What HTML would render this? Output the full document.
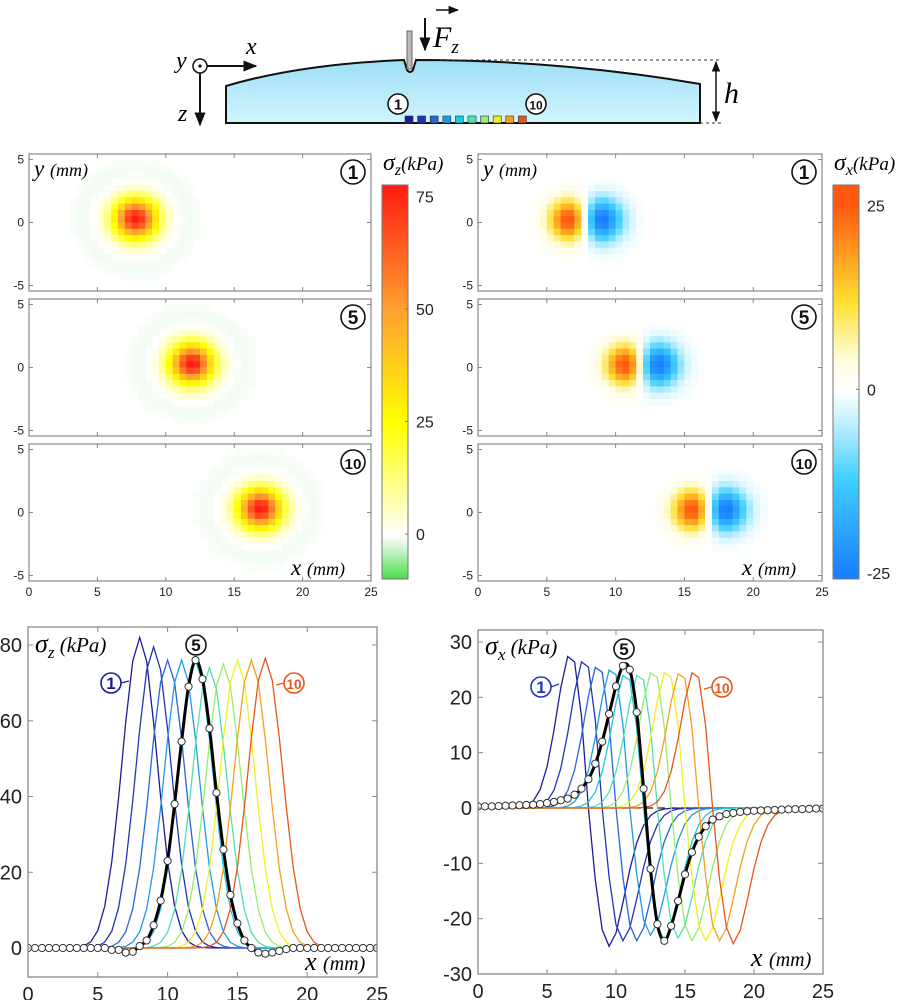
<!DOCTYPE html>
<html><head><meta charset="utf-8"><style>
html,body{margin:0;padding:0;background:#fff;}
svg{display:block;font-family:"Liberation Sans",sans-serif;}
.it{font-family:"Liberation Serif",serif;font-style:italic;}
</style></head><body>
<svg id="fig" width="908" height="1000" viewBox="0 0 908 1000" xmlns="http://www.w3.org/2000/svg">
<defs>
<linearGradient id="gel" x1="0" y1="0" x2="0" y2="1"><stop offset="0" stop-color="#9ddff6"/><stop offset="1" stop-color="#d2f5fd"/></linearGradient>
<marker id="ah" viewBox="0 0 10 10" refX="9" refY="5" markerWidth="7" markerHeight="7" orient="auto-start-reverse"><path d="M0,1 L10,5 L0,9 z" fill="#111"/></marker>
</defs>
<g>
<path d="M226,86 Q300,64 404,60 L407,70 Q410,74 413,70 L416,60 Q560,60 700,84 L700,123 L226,123 Z" fill="url(#gel)" stroke="#111" stroke-width="2"/>
<rect x="407" y="31" width="5" height="38" fill="#bbb" stroke="#666" stroke-width="1"/>
<line x1="425" y1="18" x2="425" y2="50" stroke="#111" stroke-width="2" marker-end="url(#ah)"/>
<text class="it" x="433" y="47" font-size="30">F<tspan font-size="19" dy="6">z</tspan></text>
<line x1="436" y1="10" x2="458" y2="10" stroke="#111" stroke-width="1.5" marker-end="url(#ah)"/>
<line x1="440" y1="60" x2="722" y2="60" stroke="#333" stroke-dasharray="3,3"/>
<line x1="700" y1="123" x2="722" y2="123" stroke="#333" stroke-dasharray="3,3"/>
<line x1="716" y1="62" x2="716" y2="121" stroke="#111" stroke-width="1.5" marker-start="url(#ah)" marker-end="url(#ah)"/>
<text class="it" x="724" y="103" font-size="30">h</text>
<circle cx="200" cy="66" r="7" fill="#fff" stroke="#111" stroke-width="1.5"/>
<circle cx="200" cy="66" r="1.6" fill="#111"/>
<line x1="207" y1="66" x2="256" y2="66" stroke="#111" stroke-width="2" marker-end="url(#ah)"/>
<line x1="200" y1="73" x2="200" y2="125" stroke="#111" stroke-width="2" marker-end="url(#ah)"/>
<text class="it" x="246" y="54" font-size="24">x</text>
<text class="it" x="176" y="68" font-size="24">y</text>
<text class="it" x="178" y="121" font-size="24">z</text>
<g id="squares"></g>
</g>
<g id="heat"></g>
<g id="lines"></g>
</svg>
<script>
// ---- data ----
const lineColors=['#1c1c96','#2434b4','#2a64d6','#1f9ae8','#20c8e0','#4fe0b0','#98ec70','#f0f020','#f4a020','#e8561a'];
const zCenters=[8,9,10,11,12,13,14,15,16,17];
const zPeaks=[82,79.5,76,76,76,74,75,76,76,76.5];
const xPosPeaks=[28,27,26,25.5,24.5,24.5,25,25,24.8,25];
const xNegPeaks=[-25,-24,-24,-23,-24,-23.5,-24,-24,-24,-24.5];
const circZ=[0,0,0,0,0,0,0,0,0,0,0,0,-0.5,-0.5,-1.2,-1,0.5,2,6,12.5,23,38,54.5,69,76,71,58,41,26,14,6.5,2,0,-1.2,-1.5,-1.2,-0.8,-0.3,0,0,0,0,0,0,0,0,0,0,0,0,0];
const circX=[0.3,0.3,0.3,0.35,0.4,0.45,0.5,0.55,0.6,0.7,0.9,1.1,1.4,1.7,2.4,3.5,5.2,8,12,17,22,25.7,25,17.3,3.5,-11,-21,-24,-21.3,-16.8,-12,-8,-5.2,-3.3,-2.1,-1.5,-1.1,-0.9,-0.7,-0.6,-0.5,-0.45,-0.4,-0.35,-0.3,-0.25,-0.2,-0.2,-0.15,-0.1,-0.1];
const hmZCenters=[7.8,11.9,16.9];
const hmZPeaks=[78,78,78];
const hmXCenters=[7.8,11.9,16.8];
const hmXAmps=[26,26,26];
const panelLabels=['1','5','10'];
const zTicks=[0,5,10,15,20,25];
const zYTicks=[0,20,40,60,80];
const xYTicks=[-30,-20,-10,0,10,20,30];

const NS='http://www.w3.org/2000/svg';
function mk(tag,attrs,parent){const e=document.createElementNS(NS,tag);for(const k in attrs)e.setAttribute(k,attrs[k]);if(parent)parent.appendChild(e);return e;}
function hex(c){return [parseInt(c.slice(1,3),16),parseInt(c.slice(3,5),16),parseInt(c.slice(5,7),16)];}
function cmap(stops,v){if(v<=stops[0][0])return stops[0][1];if(v>=stops[stops.length-1][0])return stops[stops.length-1][1];
 for(let i=0;i<stops.length-1;i++){const a=stops[i],b=stops[i+1];if(v<=b[0]){const t=(v-a[0])/(b[0]-a[0]);const A=hex(a[1]),B=hex(b[1]);
 return 'rgb('+A.map((q,j)=>Math.round(q+(B[j]-q)*t)).join(',')+')';}}}
const zStops=[[-10,'#44dd44'],[-3,'#d0f5d0'],[0,'#ffffff'],[6,'#ffffc0'],[25,'#ffff00'],[50,'#ffa030'],[78,'#ff1a10']];
const xStops=[[-25,'#1a80ff'],[-12,'#40d0ff'],[-4,'#c8f2ff'],[0,'#ffffff'],[4,'#fffde0'],[12,'#ffe030'],[25,'#ff5a10']];

const sq=document.getElementById('squares');
lineColors.forEach((c,i)=>{const r=mk('rect',{x:405+i*12.6,y:116,width:8,height:7,fill:c,stroke:'#333','stroke-width':0.6},sq);
 
 });
function circ(parent,cx,cy,label,color,r,fs,name){const g=mk('g',{},parent);
 
 
 mk('circle',{cx:cx,cy:cy,r:r,fill:'#fff',stroke:color,'stroke-width':1.6},g);
 const t=mk('text',{x:cx,y:cy+fs*0.36,'text-anchor':'middle','font-size':label.length>1?fs*0.8:fs,'font-weight':'bold',fill:color},g);t.textContent=label;return g;}
circ(sq,398,104,'1','#111',10,15,'schematic-label-1');
circ(sq,536,104,'10','#111',10,15,'schematic-label-10');

// ---- heatmaps ----
const heat=document.getElementById('heat');
const panelTops=[154,299,444];
function heatPanel(x0,x1,top,field,stops,idx,kind){
 const h=137,cy=top+68.5,py=12.6,px=(x1-x0)/25;
 const g=mk('g',{},heat);
 
 
 const cid='clip'+kind+idx;const cp=mk('clipPath',{id:cid},g);mk('rect',{x:x0,y:top,width:x1-x0,height:h},cp);
 const cells=mk('g',{'clip-path':'url(#'+cid+')'},g);
 mk('rect',{x:x0,y:top,width:x1-x0,height:h,fill:'#fff'},cells);
 for(let i=0;i<50;i++)for(let j=0;j<22;j++){const x=i*0.5+0.25,y=5.5-j*0.5-0.25;const v=field(x,y);if(Math.abs(v)<0.3)continue;
  mk('rect',{x:(x0+i*0.5*px).toFixed(1),y:(cy-(5.5-j*0.5)*py).toFixed(1),width:(0.5*px+0.6).toFixed(1),height:(0.5*py+0.6).toFixed(1),fill:cmap(stops,v)},cells);}
 mk('rect',{x:x0,y:top,width:x1-x0,height:h,fill:'none',stroke:'#888','stroke-width':1.2},g);
 [5,0,-5].forEach(t=>{const yy=cy-t*py;mk('line',{x1:x0,y1:yy,x2:x0+4,y2:yy,stroke:'#888'},g);mk('line',{x1:x1,y1:yy,x2:x1-4,y2:yy,stroke:'#888'},g);
  const tx=mk('text',{x:x0-5,y:yy+4,'text-anchor':'end','font-size':12,fill:'#222'},g);tx.textContent=t;});
 zTicks.forEach(t=>{const xx=x0+t*px;mk('line',{x1:xx,y1:top,x2:xx,y2:top+4,stroke:'#888'},g);mk('line',{x1:xx,y1:top+h,x2:xx,y2:top+h-4,stroke:'#888'},g);});
 circ(g,x1-18,top+18,panelLabels[idx],'#111',12,19,kind+'-panel-label-'+panelLabels[idx]);
 if(idx===0){const t=mk('text',{class:'it',x:x0+5,y:top+22,'font-size':23},g);t.innerHTML='y <tspan font-size="18">(mm)</tspan>';
  
  }
 if(idx===2){const t=mk('text',{class:'it',x:x1-80,y:top+h-6,'font-size':23},g);t.innerHTML='x <tspan font-size="18">(mm)</tspan>';
  
  
  zTicks.forEach(tk=>{const tx=mk('text',{x:x0+tk*px,y:top+h+15,'text-anchor':'middle','font-size':12,fill:'#222'},g);tx.textContent=tk;});}
}
function zField(c,A){return (x,y)=>{const r=Math.hypot(x-c,y-0.3);return A*Math.exp(-r*r/(2*1.1*1.1))-1.0*Math.exp(-Math.pow(r-3.4,2)/(2*0.9*0.9));};}
function xField(c,A){return (x,y)=>{const u=x-c;const s=1.25;const q=u/s;return -A*q*Math.exp(0.5*(1-q*q))*Math.exp(-Math.pow(y-0.2,2)/(2*1.15*1.15));};}
for(let k=0;k<3;k++){heatPanel(29,371,panelTops[k],zField(hmZCenters[k],hmZPeaks[k]),zStops,k,'sigma-z');
 heatPanel(478,822,panelTops[k],xField(hmXCenters[k],hmXAmps[k]),xStops,k,'sigma-x');}
function colorbar(x,stops,vmin,vmax,ticks,sub,name){
 const g=mk('g',{},heat);
 
 
 const top=185,bot=579,w=26;
 for(let yy=top;yy<bot;yy+=2){const v=vmax-(yy-top)/(bot-top)*(vmax-vmin);mk('rect',{x:x,y:yy,width:w,height:2.5,fill:cmap(stops,v)},g);}
 mk('rect',{x:x,y:top,width:w,height:bot-top,fill:'none',stroke:'#777'},g);
 ticks.forEach(t=>{const yy=top+(vmax-t)/(vmax-vmin)*(bot-top);mk('line',{x1:x+w,y1:yy,x2:x+w-3,y2:yy,stroke:'#777'},g);
  const tx=mk('text',{x:x+w+8,y:yy+6,'font-size':16,fill:'#222'},g);tx.textContent=t;});
 const t=mk('text',{class:'it',x:x+1,y:170,'font-size':24},g);t.innerHTML='σ<tspan font-size="16" dy="5">'+sub+'</tspan><tspan dy="-5" font-size="19">(kPa)</tspan>';
}
colorbar(382,zStops,-10,77.5,[75,50,25,0],'z','sigma-z-colorbar');
colorbar(833,xStops,-25.8,27.8,[25,0,-25],'x','sigma-x-colorbar');

// ---- line charts ----
const lines=document.getElementById('lines');
function chart(cfg){
 const g=mk('g',{},lines);
 
 
 const X=v=>cfg.x0+v*(cfg.x1-cfg.x0)/25, Y=v=>cfg.yb+(v-cfg.ymin)*(cfg.yt-cfg.yb)/(cfg.ymax-cfg.ymin);
 const cid='lc'+cfg.name;const cp=mk('clipPath',{id:cid},g);mk('rect',{x:cfg.x0,y:cfg.boxTop,width:cfg.x1-cfg.x0,height:cfg.boxBot-cfg.boxTop},cp);
 const pg=mk('g',{'clip-path':'url(#'+cid+')'},g);
 if(cfg.dash){const d=mk('line',{x1:X(0),y1:Y(0),x2:X(18.5),y2:Y(0),stroke:'#222','stroke-width':1.3,'stroke-dasharray':'7,5'},pg);
  
  }
 for(let k=0;k<10;k++){let pts=[];for(let i=0;i<=50;i++){const x=i*0.5;pts.push(X(x).toFixed(1)+','+Y(cfg.model(k,x)).toFixed(1));}
  const p=mk('polyline',{points:pts.join(' '),fill:'none',stroke:lineColors[k],'stroke-width':1.3},pg);
  
  }
 const P=cfg.circ.map((v,i)=>[X(i*0.5),Y(v)]);let d='M'+P[0][0]+','+P[0][1];
 for(let i=0;i<P.length-1;i++){const p0=P[Math.max(0,i-1)],p1=P[i],p2=P[i+1],p3=P[Math.min(P.length-1,i+2)];
  d+=' C'+(p1[0]+(p2[0]-p0[0])/6).toFixed(1)+','+(p1[1]+(p2[1]-p0[1])/6).toFixed(1)+' '+(p2[0]-(p3[0]-p1[0])/6).toFixed(1)+','+(p2[1]-(p3[1]-p1[1])/6).toFixed(1)+' '+p2[0].toFixed(1)+','+p2[1].toFixed(1);}
 const bl=mk('path',{d:d,fill:'none',stroke:'#000','stroke-width':3},pg);
 
 
 cfg.circ.forEach((v,i)=>{const c=mk('circle',{cx:X(i*0.5),cy:Y(v),r:3.6,fill:'#fff',stroke:'#333','stroke-width':1},pg);
  
  });
 mk('rect',{x:cfg.x0,y:cfg.boxTop,width:cfg.x1-cfg.x0,height:cfg.boxBot-cfg.boxTop,fill:'none',stroke:'#888','stroke-width':1.3},g);
 cfg.yticks.forEach(t=>{const yy=Y(t);mk('line',{x1:cfg.x0,y1:yy,x2:cfg.x0+5,y2:yy,stroke:'#888'},g);mk('line',{x1:cfg.x1,y1:yy,x2:cfg.x1-5,y2:yy,stroke:'#888'},g);
  const tx=mk('text',{x:cfg.x0-6,y:yy+7,'text-anchor':'end','font-size':20,fill:'#222'},g);tx.textContent=t;
  
  });
 zTicks.forEach(t=>{const xx=X(t);mk('line',{x1:xx,y1:cfg.boxBot,x2:xx,y2:cfg.boxBot-5,stroke:'#888'},g);mk('line',{x1:xx,y1:cfg.boxTop,x2:xx,y2:cfg.boxTop+5,stroke:'#888'},g);
  const tx=mk('text',{x:xx,y:cfg.boxBot+24,'text-anchor':'middle','font-size':20,fill:'#222'},g);tx.textContent=t;
  
  });
 const yl=mk('text',{class:'it',x:cfg.x0+7,y:cfg.ylabY,'font-size':26},g);yl.innerHTML='σ<tspan font-size="17" dy="6">'+cfg.sub+'</tspan><tspan dy="-6" font-size="21"> (kPa)</tspan>';
 
 
 const xl=mk('text',{class:'it',x:cfg.x1-72,y:cfg.xlabY,'font-size':26},g);xl.innerHTML='x <tspan font-size="20">(mm)</tspan>';
 
 
 cfg.labels.forEach(L=>{if(L.lx)mk('line',{x1:L.lx[0],y1:L.lx[1],x2:L.lx[2],y2:L.lx[3],stroke:L.c,'stroke-width':1.3},g);
  circ(g,L.x,L.y,L.t,L.c,10,17,'curve-label-'+L.t);});
}
chart({name:'sigma-z-profile',x0:28,x1:377,boxTop:627,boxBot:977,yb:948,yt:645,ymin:0,ymax:80,yticks:zYTicks,sub:'z',ylabY:652,xlabY:970,dash:false,
 model:(k,x)=>{const u=(x-zCenters[k])/1.25;return zPeaks[k]*Math.exp(-u*u/2);},circ:circZ,
 labels:[{x:111,y:683,t:'1',c:'#1c1c96',lx:[121,683,129,681]},{x:196,y:645,t:'5',c:'#111'},{x:294,y:683,t:'10',c:'#e8561a',lx:[276,685,284,683]}]});
chart({name:'sigma-x-profile',x0:478,x1:823,boxTop:630,boxBot:974,yb:974,yt:642,ymin:-30,ymax:30,yticks:xYTicks,sub:'x',ylabY:654,xlabY:966,dash:true,
 model:(k,x)=>{const u=x-zCenters[k];if(u<0){const q=-u/1.3;return xPosPeaks[k]*q*Math.exp(0.5*(1-q*q));}const q=u/1.5;return xNegPeaks[k]*q*Math.exp(0.5*(1-q*q));},circ:circX,
 labels:[{x:541,y:687,t:'1',c:'#2434b4',lx:[551,687,559,684]},{x:624,y:649,t:'5',c:'#111'},{x:722,y:687,t:'10',c:'#e8561a',lx:[704,689,712,687]}]});
</script>
</body></html>
